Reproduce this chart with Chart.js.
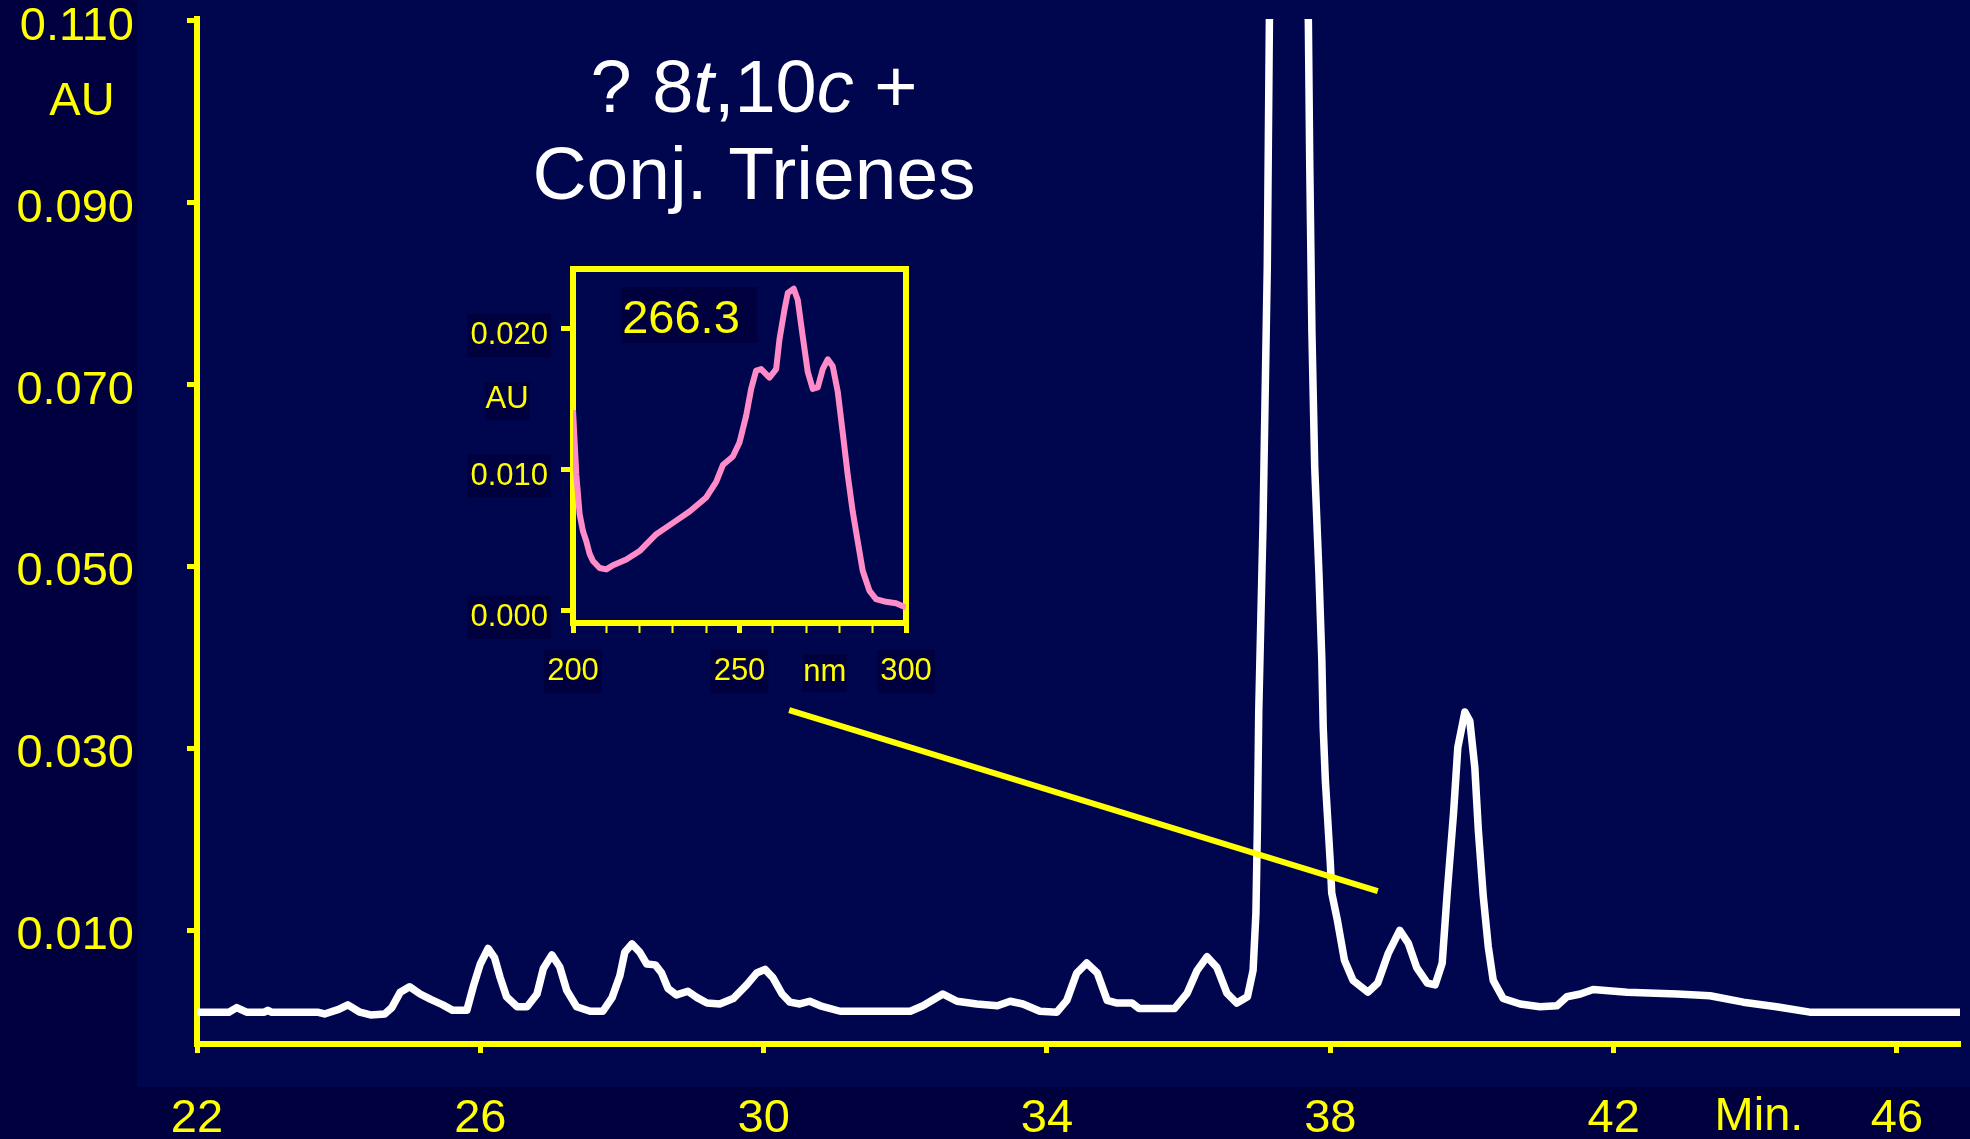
<!DOCTYPE html>
<html>
<head>
<meta charset="utf-8">
<script src="https://cdn.jsdelivr.net/npm/chart.js@4/dist/chart.umd.min.js"></script>
<style>
  html, body { margin: 0; padding: 0; background: #00003f; overflow: hidden; }
  #wrap { position: relative; width: 1970px; height: 1139px; }
  #main { position: absolute; left: 0; top: 0; }
  #inset { position: absolute; left: 440px; top: 240px; }
</style>
</head>
<body>
<div id="wrap">
  <canvas id="main" width="1970" height="1139"></canvas>
  <canvas id="inset" width="520" height="470"></canvas>
</div>
<script>
// ---- Chromatogram: retention time (min) and absorbance (AU) ----
const times = [
  22.00, 22.45, 22.56, 22.70, 22.95, 23.00, 23.05, 23.70, 23.80, 24.00,
  24.13, 24.30, 24.45, 24.65, 24.75, 24.87, 25.00, 25.15, 25.30, 25.47,
  25.61, 25.81, 25.90, 26.00, 26.11, 26.20, 26.28, 26.37, 26.52, 26.66,
  26.80, 26.89, 27.01, 27.12, 27.22, 27.36, 27.55, 27.73, 27.86, 27.97,
  28.04, 28.14, 28.25, 28.35, 28.47, 28.56, 28.65, 28.77, 28.93, 29.06,
  29.20, 29.38, 29.57, 29.76, 29.90, 30.02, 30.13, 30.26, 30.37, 30.51,
  30.65, 30.80, 31.08, 32.07, 32.25, 32.53, 32.73, 33.01, 33.30, 33.48,
  33.66, 33.90, 34.14, 34.28, 34.42, 34.56, 34.71, 34.85, 34.99, 35.20,
  35.30, 35.80, 35.98, 36.12, 36.26, 36.40, 36.54, 36.68, 36.83, 36.91,
  36.95, 36.97, 36.99, 37.05, 37.08, 37.11, 37.14, 37.42, 37.69, 37.71,
  37.74, 37.78, 37.81, 37.84, 37.88, 37.90, 37.93, 38.00, 38.02, 38.10,
  38.20, 38.32, 38.53, 38.67, 38.82, 38.98, 39.10, 39.22, 39.37, 39.48,
  39.58, 39.65, 39.74, 39.80, 39.90, 39.97, 40.04, 40.09, 40.16, 40.23,
  40.30, 40.44, 40.68, 40.96, 41.20, 41.34, 41.53, 41.71, 42.19, 42.90,
  43.36, 43.83, 44.30, 44.77, 46.89
];
const absorbance = [
  0.0010, 0.0010, 0.0015, 0.0010, 0.0010, 0.0012, 0.0010, 0.0010, 0.0008, 0.0013,
  0.0018, 0.0010, 0.0007, 0.0008, 0.0015, 0.0032, 0.0038, 0.0030, 0.0024, 0.0018,
  0.0012, 0.0012, 0.0038, 0.0063, 0.0080, 0.0070, 0.0048, 0.0027, 0.0016, 0.0016,
  0.0030, 0.0058, 0.0073, 0.0060, 0.0034, 0.0016, 0.0011, 0.0011, 0.0026, 0.0050,
  0.0076, 0.0085, 0.0076, 0.0063, 0.0062, 0.0053, 0.0036, 0.0029, 0.0033, 0.0026,
  0.0020, 0.0019, 0.0025, 0.0040, 0.0053, 0.0057, 0.0048, 0.0030, 0.0021, 0.0019,
  0.0022, 0.0017, 0.0011, 0.0011, 0.0017, 0.0030, 0.0022, 0.0019, 0.0017, 0.0022,
  0.0019, 0.0011, 0.0010, 0.0023, 0.0053, 0.0064, 0.0053, 0.0023, 0.0020, 0.0020,
  0.0014, 0.0014, 0.0031, 0.0056, 0.0071, 0.0059, 0.0031, 0.0020, 0.0027, 0.0056,
  0.0119, 0.0210, 0.0342, 0.0547, 0.0689, 0.0829, 0.1100, 0.1600, 0.1100, 0.0941,
  0.0759, 0.0609, 0.0550, 0.0491, 0.0398, 0.0323, 0.0265, 0.0174, 0.0141, 0.0111,
  0.0067, 0.0045, 0.0032, 0.0042, 0.0075, 0.0100, 0.0086, 0.0059, 0.0042, 0.0040,
  0.0064, 0.0141, 0.0229, 0.0301, 0.0340, 0.0330, 0.0279, 0.0210, 0.0137, 0.0082,
  0.0045, 0.0025, 0.0019, 0.0016, 0.0017, 0.0027, 0.0030, 0.0035, 0.0032, 0.0030,
  0.0028, 0.0021, 0.0016, 0.0010, 0.0010
];
const xTickValues = [22, 26, 30, 34, 38, 42, 46];
const yTickValues = [0.010, 0.030, 0.050, 0.070, 0.090, 0.110];

// ---- UV spectrum of the marked peak: wavelength (nm) and absorbance (AU) ----
const wavelengths = [
  200, 201, 202, 203, 204, 205, 206, 208, 210, 212,
  216, 220, 225, 230, 235, 240, 243, 245, 248, 250,
  252, 253.5, 255, 256.5, 259, 261, 262, 263.5, 264.5, 266.3,
  267.5, 269, 270.5, 272, 273.5, 275, 276.5, 278, 279.5, 281,
  282.5, 284, 285.5, 287, 289, 291, 294, 297, 300
];
const spectrum = [
  0.0142, 0.0096, 0.0068, 0.0056, 0.0049, 0.0040, 0.0035, 0.0030, 0.0029, 0.0032,
  0.0036, 0.0042, 0.0054, 0.0062, 0.0070, 0.0080, 0.0091, 0.0103, 0.0109, 0.0119,
  0.0138, 0.0157, 0.0170, 0.0171, 0.0165, 0.0171, 0.0192, 0.0213, 0.0225, 0.0228,
  0.0220, 0.0194, 0.0169, 0.0157, 0.0158, 0.0171, 0.0178, 0.0173, 0.0155, 0.0126,
  0.0096, 0.0070, 0.0049, 0.0028, 0.0014, 0.0008, 0.0006, 0.0005, 0.0002
];
const insetXTicks = [200, 210, 220, 230, 240, 250, 260, 270, 280, 290, 300];
const insetXLabels = [200, 250, 300];
const insetYTicks = [0.000, 0.010, 0.020];

// Leader from the inset to the peak it describes (chromatogram units)
const leaderFrom = { x: 30.36, y: 0.0342 };
const leaderTo = { x: 38.67, y: 0.0143 };

const YELLOW = '#ffff00';
const PAGE_BG = '#00003f';
const PANEL_BG = '#00064d';
const FONT = "'Liberation Sans', Arial, Helvetica, sans-serif";
Chart.defaults.font.family = FONT;

function capText(ctx, text, cx, cy, size, color, style) {
  ctx.save();
  ctx.font = (style ? style + ' ' : '') + size + 'px ' + FONT;
  ctx.fillStyle = color;
  ctx.textAlign = 'center';
  ctx.textBaseline = 'alphabetic';
  ctx.fillText(text, cx, cy + 0.358 * size);
  ctx.restore();
}

// keep the plot area exactly where the layout padding puts it
function noEdgePadding(s) {
  s.paddingTop = 0; s.paddingBottom = 0; s.paddingLeft = 0; s.paddingRight = 0;
}

const mainDecor = {
  id: 'mainDecor',
  beforeDraw(chart) {
    const { ctx, chartArea } = chart;
    ctx.save();
    ctx.fillStyle = PAGE_BG;
    ctx.fillRect(0, 0, chart.width, chart.height);
    ctx.fillStyle = PANEL_BG;
    ctx.fillRect(chartArea.left - 60, 0, chart.width - (chartArea.left - 60), chartArea.bottom + 43);
    ctx.restore();
  },
  afterDatasetsDraw(chart) {
    const { ctx, scales } = chart;
    ctx.save();
    ctx.strokeStyle = YELLOW;
    ctx.lineWidth = 6;
    ctx.beginPath();
    ctx.moveTo(scales.x.getPixelForValue(leaderFrom.x), scales.y.getPixelForValue(leaderFrom.y));
    ctx.lineTo(scales.x.getPixelForValue(leaderTo.x), scales.y.getPixelForValue(leaderTo.y));
    ctx.stroke();
    ctx.restore();
  },
  afterDraw(chart) {
    const { ctx } = chart;
    capText(ctx, 'AU', 82, 98, 47, YELLOW);
    ctx.save();
    ctx.font = '47px ' + FONT;
    ctx.fillStyle = YELLOW;
    ctx.textAlign = 'center';
    ctx.fillText('Min.', 1759, 1130);
    ctx.restore();

    // title with italic isomer letters
    const segs = [['? 8', ''], ['t', 'italic'], [',10', ''], ['c', 'italic'], [' +', '']];
    ctx.save();
    ctx.fillStyle = '#ffffff';
    ctx.textBaseline = 'alphabetic';
    ctx.textAlign = 'left';
    const s1 = 74;
    let total = 0;
    segs.forEach(s => { ctx.font = (s[1] ? s[1] + ' ' : '') + s1 + 'px ' + FONT; total += ctx.measureText(s[0]).width; });
    let x = 754 - total / 2;
    segs.forEach(s => {
      ctx.font = (s[1] ? s[1] + ' ' : '') + s1 + 'px ' + FONT;
      ctx.fillText(s[0], x, 112);
      x += ctx.measureText(s[0]).width;
    });
    ctx.font = '75px ' + FONT;
    ctx.textAlign = 'center';
    ctx.fillText('Conj. Trienes', 754, 199);
    ctx.restore();
  }
};

new Chart(document.getElementById('main'), {
  type: 'line',
  data: {
    datasets: [{
      data: times.map((t, i) => ({ x: t, y: absorbance[i] })),
      borderColor: '#ffffff',
      borderWidth: 7.5,
      pointRadius: 0,
      tension: 0,
      fill: false,
      borderJoinStyle: 'round',
      borderCapStyle: 'round'
    }]
  },
  options: {
    responsive: false,
    animation: false,
    devicePixelRatio: 1,
    layout: { padding: { top: 19, right: 10, left: 0, bottom: 0 } },
    plugins: { legend: { display: false }, tooltip: { enabled: false } },
    scales: {
      x: {
        type: 'linear', min: 22, max: 46.89,
        afterBuildTicks: s => { s.ticks = xTickValues.map(v => ({ value: v })); },
        afterFit: s => { s.height = 95; noEdgePadding(s); },
        grid: { display: true, drawOnChartArea: false, drawTicks: true, tickLength: 9, tickWidth: 5, tickColor: YELLOW, color: YELLOW },
        border: { display: true, color: YELLOW, width: 6 },
        ticks: { color: YELLOW, font: { size: 47 }, padding: 38, maxRotation: 0, autoSkip: false, callback: v => String(v) }
      },
      y: {
        type: 'linear', min: -0.0025, max: 0.1102,
        afterBuildTicks: s => { s.ticks = yTickValues.map(v => ({ value: v })); },
        afterFit: s => { s.width = 197; noEdgePadding(s); },
        grid: { display: true, drawOnChartArea: false, drawTicks: true, tickLength: 10, tickWidth: 5, tickColor: YELLOW, color: YELLOW },
        border: { display: true, color: YELLOW, width: 6 },
        ticks: { color: YELLOW, font: { size: 47 }, padding: 53, labelOffset: 6, autoSkip: false, callback: v => v.toFixed(3) }
      }
    }
  },
  plugins: [mainDecor]
});

// ---- Inset: UV spectrum ----
const peakIndex = spectrum.indexOf(Math.max(...spectrum));
const LABEL_BG = '#00003f';

const insetDecor = {
  id: 'insetDecor',
  beforeDatasetsDraw(chart) {
    const { ctx, chartArea } = chart;
    ctx.save();
    ctx.strokeStyle = YELLOW;
    ctx.lineWidth = 6;
    ctx.strokeRect(chartArea.left, chartArea.top, chartArea.right - chartArea.left, chartArea.bottom - chartArea.top);
    const label = wavelengths[peakIndex].toFixed(1);
    ctx.fillStyle = LABEL_BG;
    ctx.fillRect(chartArea.left + 48, chartArea.top + 18, 136, 56);
    ctx.restore();
    capText(ctx, label, chartArea.left + 108, chartArea.top + 47, 47, YELLOW);
  },
  afterDraw(chart) {
    const { ctx, chartArea, scales } = chart;
    ctx.save();
    ctx.fillStyle = LABEL_BG;
    ctx.fillRect(chartArea.left - 88, chartArea.top + 113, 45, 38);
    const nmX = scales.x.getPixelForValue(275.6);
    ctx.fillRect(nmX - 22, chartArea.bottom + 31, 44, 38);
    ctx.restore();
    capText(ctx, 'AU', chartArea.left - 66, chartArea.top + 128, 31, YELLOW);
    capText(ctx, 'nm', nmX, chartArea.bottom + 47, 31, YELLOW);
  }
};

new Chart(document.getElementById('inset'), {
  type: 'line',
  data: {
    datasets: [{
      data: wavelengths.map((w, i) => ({ x: w, y: spectrum[i] })),
      borderColor: '#ff8cc8',
      borderWidth: 6,
      pointRadius: 0,
      tension: 0,
      fill: false,
      borderJoinStyle: 'round'
    }]
  },
  options: {
    responsive: false,
    animation: false,
    devicePixelRatio: 1,
    layout: { padding: { top: 29, right: 54, left: 0, bottom: 0 } },
    plugins: { legend: { display: false }, tooltip: { enabled: false } },
    scales: {
      x: {
        type: 'linear', min: 200, max: 300,
        afterBuildTicks: s => { s.ticks = insetXTicks.map(v => ({ value: v })); },
        afterFit: s => { s.height = 87; noEdgePadding(s); },
        grid: {
          display: true, drawOnChartArea: false, drawTicks: true, tickLength: 10,
          tickWidth: c => (insetXLabels.includes(c.tick.value) ? 5 : 2),
          tickColor: YELLOW, color: YELLOW
        },
        border: { display: false },
        ticks: {
          color: YELLOW, font: { size: 31 }, padding: 20, maxRotation: 0, autoSkip: false,
          callback: v => (insetXLabels.includes(v) ? String(v) : ''),
          showLabelBackdrop: c => insetXLabels.includes(c.tick.value),
          backdropColor: LABEL_BG, backdropPadding: 3
        }
      },
      y: {
        type: 'linear', min: -0.0009, max: 0.0242,
        afterBuildTicks: s => { s.ticks = insetYTicks.map(v => ({ value: v })); },
        afterFit: s => { s.width = 133; noEdgePadding(s); },
        grid: { display: true, drawOnChartArea: false, drawTicks: true, tickLength: 12, tickWidth: 5, tickColor: YELLOW, color: YELLOW },
        border: { display: false },
        ticks: {
          color: YELLOW, font: { size: 31 }, padding: 13, labelOffset: 7, autoSkip: false,
          callback: v => v.toFixed(3),
          showLabelBackdrop: true, backdropColor: LABEL_BG, backdropPadding: 3
        }
      }
    }
  },
  plugins: [insetDecor]
});
</script>
</body>
</html>
